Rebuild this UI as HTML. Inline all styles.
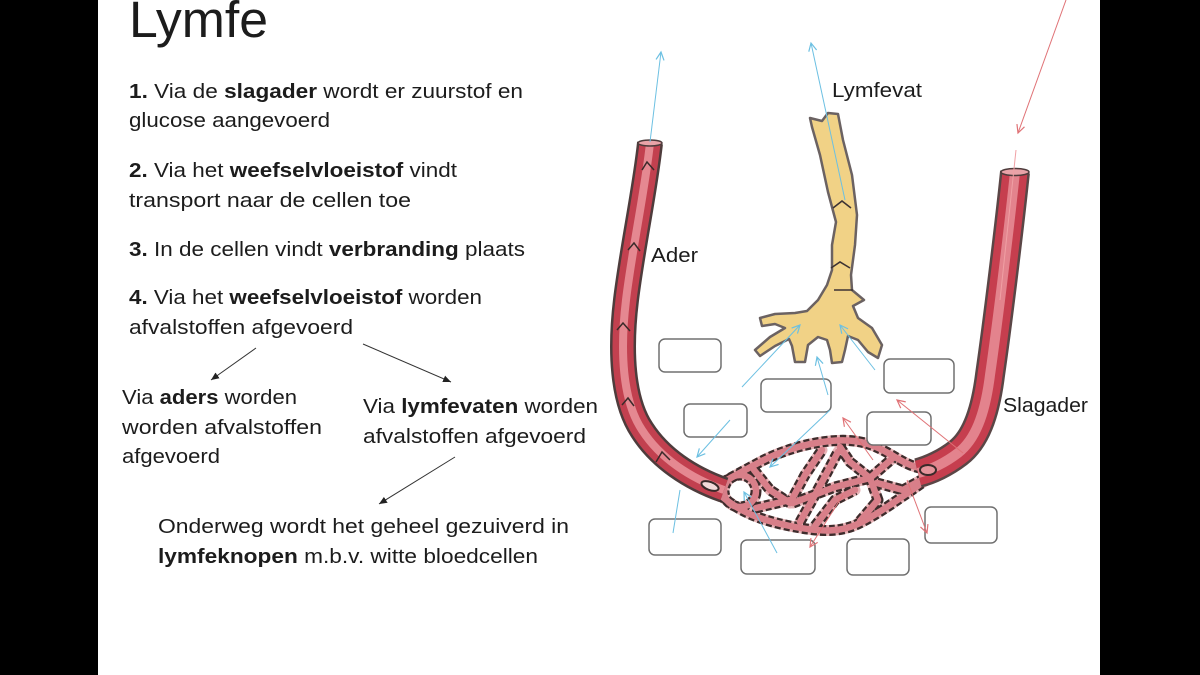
<!DOCTYPE html>
<html><head><meta charset="utf-8"><style>
html,body{margin:0;padding:0;background:#000;}
svg{display:block;}
text{font-family:"Liberation Sans",Arial,sans-serif;fill:#1c1c1c;}
</style></head><body>
<svg width="1200" height="675" viewBox="0 0 1200 675" xmlns="http://www.w3.org/2000/svg">
<defs>
<marker id="bl" markerUnits="userSpaceOnUse" markerWidth="12" markerHeight="12" refX="9" refY="5" orient="auto"><path d="M1,1 L9,5 L1,9" fill="none" stroke="#6cc0e2" stroke-width="1.2"/></marker>
<marker id="rd" markerUnits="userSpaceOnUse" markerWidth="12" markerHeight="12" refX="9" refY="5" orient="auto"><path d="M1,1 L9,5 L1,9" fill="none" stroke="#e07276" stroke-width="1.2"/></marker>
<marker id="bk" markerUnits="userSpaceOnUse" markerWidth="10" markerHeight="10" refX="8" refY="4" orient="auto"><path d="M0,0.5 L8,4 L0,7.5 z" fill="#222"/></marker>
</defs>
<rect x="0" y="0" width="1200" height="675" fill="#000"/>
<rect x="98" y="0" width="1002" height="675" fill="#fff"/>

<!-- Title -->
<text x="129" y="37" font-size="51" textLength="139" lengthAdjust="spacingAndGlyphs">Lymfe</text>

<!-- Body text -->
<g font-size="20">
<text x="129" y="98" textLength="394" lengthAdjust="spacingAndGlyphs"><tspan font-weight="bold">1.</tspan> Via de <tspan font-weight="bold">slagader</tspan> wordt er zuurstof en</text>
<text x="129" y="127" textLength="201" lengthAdjust="spacingAndGlyphs">glucose aangevoerd</text>
<text x="129" y="177" textLength="328" lengthAdjust="spacingAndGlyphs"><tspan font-weight="bold">2.</tspan> Via het <tspan font-weight="bold">weefselvloeistof</tspan> vindt</text>
<text x="129" y="207" textLength="282" lengthAdjust="spacingAndGlyphs">transport naar de cellen toe</text>
<text x="129" y="256" textLength="396" lengthAdjust="spacingAndGlyphs"><tspan font-weight="bold">3.</tspan> In de cellen vindt <tspan font-weight="bold">verbranding</tspan> plaats</text>
<text x="129" y="304" textLength="353" lengthAdjust="spacingAndGlyphs"><tspan font-weight="bold">4.</tspan> Via het <tspan font-weight="bold">weefselvloeistof</tspan> worden</text>
<text x="129" y="334" textLength="224" lengthAdjust="spacingAndGlyphs">afvalstoffen afgevoerd</text>

<text x="122" y="404" textLength="175" lengthAdjust="spacingAndGlyphs">Via <tspan font-weight="bold">aders</tspan> worden</text>
<text x="122" y="434" textLength="200" lengthAdjust="spacingAndGlyphs">worden afvalstoffen</text>
<text x="122" y="463" textLength="98" lengthAdjust="spacingAndGlyphs">afgevoerd</text>

<text x="363" y="413" textLength="235" lengthAdjust="spacingAndGlyphs">Via <tspan font-weight="bold">lymfevaten</tspan> worden</text>
<text x="363" y="443" textLength="223" lengthAdjust="spacingAndGlyphs">afvalstoffen afgevoerd</text>

<text x="158" y="533" textLength="411" lengthAdjust="spacingAndGlyphs">Onderweg wordt het geheel gezuiverd in</text>
<text x="158" y="563" textLength="380" lengthAdjust="spacingAndGlyphs"><tspan font-weight="bold">lymfeknopen</tspan> m.b.v. witte bloedcellen</text>

<text x="832" y="97" textLength="90" lengthAdjust="spacingAndGlyphs">Lymfevat</text>
<text x="651" y="262" textLength="47" lengthAdjust="spacingAndGlyphs">Ader</text>
<text x="1003" y="412" textLength="85" lengthAdjust="spacingAndGlyphs">Slagader</text>
</g>

<!-- left black arrows -->
<g stroke="#333" stroke-width="1" fill="none">
<line x1="256" y1="348" x2="211" y2="380" marker-end="url(#bk)"/>
<line x1="363" y1="344" x2="451" y2="382" marker-end="url(#bk)"/>
<line x1="455" y1="457" x2="379" y2="504" marker-end="url(#bk)"/>
</g>

<!-- Capillary network (under vessels) -->
<g fill="none" stroke-linejoin="round" stroke-linecap="round">
<g stroke="#e7b3b6" stroke-width="11">
<path d="M715,487 C730,478 745,470 760,462 S800,444 830,441 S875,445 895,457 S920,468 935,470"/>
<path d="M720,495 C740,512 760,520 790,526 S840,533 860,523 S900,498 935,474"/>
<ellipse cx="740" cy="491" rx="16" ry="16"/>
<path d="M754,470 L770,490 L790,503"/>
<path d="M756,508 L790,500"/>
<path d="M790,503 L805,475 L822,450"/>
<path d="M800,522 L815,495 L838,452"/>
<path d="M793,503 L835,487 L870,478"/>
<path d="M840,447 L850,462 L870,478 L893,458"/>
<path d="M870,478 L878,500 L860,521"/>
<path d="M877,483 L903,490 L925,478"/>
<path d="M815,526 L835,500 L855,490"/>
</g>
<g stroke="#3d2c2c" stroke-width="11" stroke-dasharray="6 3" stroke-linecap="butt">
<path d="M715,487 C730,478 745,470 760,462 S800,444 830,441 S875,445 895,457 S920,468 935,470"/>
<path d="M720,495 C740,512 760,520 790,526 S840,533 860,523 S900,498 935,474"/>
<ellipse cx="740" cy="491" rx="16" ry="16"/>
<path d="M754,470 L770,490 L790,503"/>
<path d="M756,508 L790,500"/>
<path d="M790,503 L805,475 L822,450"/>
<path d="M800,522 L815,495 L838,452"/>
<path d="M793,503 L835,487 L870,478"/>
<path d="M840,447 L850,462 L870,478 L893,458"/>
<path d="M870,478 L878,500 L860,521"/>
<path d="M877,483 L903,490 L925,478"/>
<path d="M815,526 L835,500 L855,490"/>
</g>
<g stroke="#d87f89" stroke-width="6.5">
<path d="M715,487 C730,478 745,470 760,462 S800,444 830,441 S875,445 895,457 S920,468 935,470"/>
<path d="M720,495 C740,512 760,520 790,526 S840,533 860,523 S900,498 935,474"/>
<ellipse cx="740" cy="491" rx="16" ry="16"/>
<path d="M754,470 L770,490 L790,503"/>
<path d="M756,508 L790,500"/>
<path d="M790,503 L805,475 L822,450"/>
<path d="M800,522 L815,495 L838,452"/>
<path d="M793,503 L835,487 L870,478"/>
<path d="M840,447 L850,462 L870,478 L893,458"/>
<path d="M870,478 L878,500 L860,521"/>
<path d="M877,483 L903,490 L925,478"/>
<path d="M815,526 L835,500 L855,490"/>
</g>
</g>

<!-- Ader (left vein) -->
<g fill="none" stroke-linecap="butt" stroke-linejoin="round">
<path d="M650,143 C645,190 632,250 626,300 C620,350 622,400 642,430 C660,458 690,478 724,490" stroke="#4e3c3c" stroke-width="26"/>
<path d="M650,143 C645,190 632,250 626,300 C620,350 622,400 642,430 C660,458 690,478 724,490" stroke="#c2404f" stroke-width="21"/>
<path d="M650,143 C645,190 632,250 626,300 C620,350 622,400 642,430 C660,458 690,478 724,490" stroke="#e58891" stroke-width="8"/>
</g>
<ellipse cx="650" cy="143" rx="12" ry="3" fill="#e9a3a8" stroke="#4e3c3c" stroke-width="1.5"/>
<g stroke="#3a2a2a" stroke-width="1.5" fill="none">
<path d="M642,170 L647,162 L654,170"/>
<path d="M628,250 L634,243 L640,251"/>
<path d="M617,330 L623,323 L630,331"/>
<path d="M622,405 L628,398 L634,406"/>
<path d="M656,462 L662,452 L670,460"/>
</g>
<ellipse cx="710" cy="486" rx="9" ry="4" fill="#f2d9d9" stroke="#3a2a2a" stroke-width="2" transform="rotate(20 710 486)"/>

<!-- Slagader (right artery) -->
<g fill="none" stroke-linecap="butt" stroke-linejoin="round">
<path d="M1015,172 C1010,220 998,320 990,375 C985,415 975,440 958,453 C945,463 930,470 918,473" stroke="#5a4646" stroke-width="30"/>
<path d="M1015,172 C1010,220 998,320 990,375 C985,415 975,440 958,453 C945,463 930,470 918,473" stroke="#c63e4e" stroke-width="25"/>
<path d="M1015,172 C1010,220 998,320 990,375 C985,415 975,440 958,453 C945,463 930,470 918,473" stroke="#e3838d" stroke-width="10"/>
</g>
<ellipse cx="1015" cy="172" rx="14" ry="3.5" fill="#e9a3a8" stroke="#4e3c3c" stroke-width="1.5"/>
<ellipse cx="928" cy="470" rx="8" ry="5" fill="#e5949b" stroke="#3a2a2a" stroke-width="2"/>

<!-- Lymph vessel -->
<path d="M810,118 L822,121 L828,113 L838,114 L843,140 L852,175 L857,215 L855,245 L851,275 L852,290 L864,300 L853,306 L858,318 L872,328 L882,345 L878,358 L868,352 L858,340 L848,336 L845,350 L842,362 L832,363 L830,350 L827,340 L818,337 L808,345 L805,362 L795,362 L792,346 L789,339 L775,346 L760,356 L755,350 L770,337 L785,328 L775,324 L762,326 L760,318 L775,314 L795,313 L807,311 L818,300 L827,285 L832,270 L832,245 L836,222 L828,192 L820,155 L812,127 Z" fill="#f1d286" stroke="#6b6262" stroke-width="2.5" stroke-linejoin="round"/>
<g stroke="#3d3333" stroke-width="1.6" fill="none">
<path d="M833,208 L842,201 L851,208"/>
<path d="M831,268 L840,262 L850,268"/>
<path d="M834,290 L853,290"/>
</g>

<!-- Boxes -->
<g fill="#fff" stroke="#707070" stroke-width="1.5">
<rect x="659" y="339" width="62" height="33" rx="6"/>
<rect x="761" y="379" width="70" height="33" rx="6"/>
<rect x="884" y="359" width="70" height="34" rx="6"/>
<rect x="684" y="404" width="63" height="33" rx="6"/>
<rect x="867" y="412" width="64" height="33" rx="6"/>
<rect x="649" y="519" width="72" height="36" rx="6"/>
<rect x="741" y="540" width="74" height="34" rx="6"/>
<rect x="847" y="539" width="62" height="36" rx="6"/>
<rect x="925" y="507" width="72" height="36" rx="6"/>
</g>

<!-- Blue arrows -->
<g stroke="#6cc0e2" stroke-width="1" fill="none">
<line x1="650" y1="142" x2="661" y2="52" marker-end="url(#bl)"/>
<line x1="845" y1="200" x2="811" y2="43" marker-end="url(#bl)"/>
<line x1="742" y1="387" x2="800" y2="325" marker-end="url(#bl)"/>
<line x1="828" y1="395" x2="817" y2="357" marker-end="url(#bl)"/>
<line x1="875" y1="370" x2="840" y2="325" marker-end="url(#bl)"/>
<line x1="730" y1="420" x2="697" y2="457" marker-end="url(#bl)"/>
<line x1="830" y1="410" x2="770" y2="467" marker-end="url(#bl)"/>
<line x1="673" y1="533" x2="680" y2="490"/>
<line x1="777" y1="553" x2="744" y2="492" marker-end="url(#bl)"/>
</g>
<!-- Red arrows -->
<g stroke="#e07276" stroke-width="1" fill="none">
<line x1="1066" y1="0" x2="1018" y2="133" marker-end="url(#rd)"/>
<line x1="1016" y1="150" x2="1000" y2="300" stroke="#f0a0a4"/>
<line x1="963" y1="453" x2="897" y2="400" marker-end="url(#rd)"/>
<line x1="873" y1="460" x2="843" y2="418" marker-end="url(#rd)"/>
<line x1="843" y1="495" x2="810" y2="547" marker-end="url(#rd)"/>
<line x1="907" y1="480" x2="927" y2="533" marker-end="url(#rd)"/>
</g>
</svg>
</body></html>
